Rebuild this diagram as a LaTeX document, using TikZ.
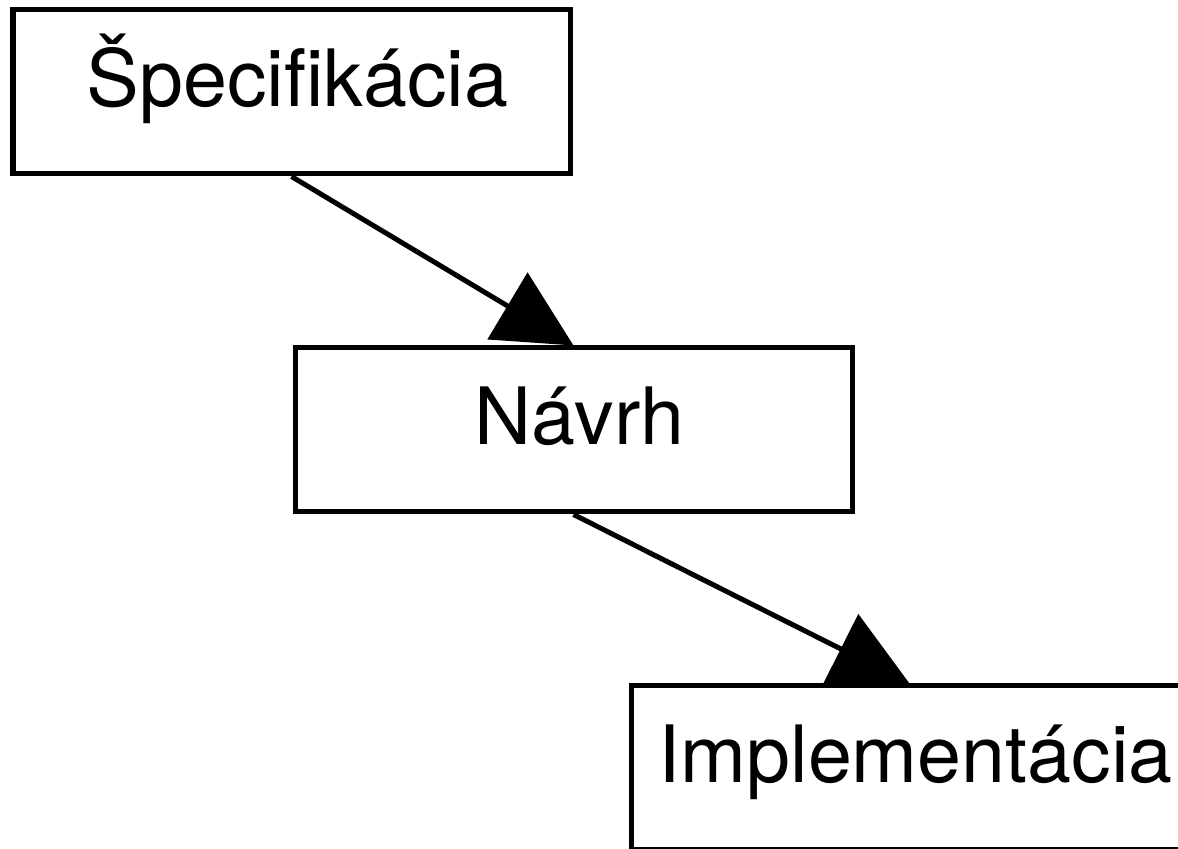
\documentclass[tikz,border=0pt]{standalone}
\usepackage{fontspec}
\setmainfont{TeX Gyre Heros}
\usetikzlibrary{arrows.meta}

\begin{document}
\begin{tikzpicture} [scale = 1,
  phase/.style = {draw, black, line width = 0.1cm, inner sep = 0pt,
    minimum width = 11.14cm, text height = 1.94cm, text depth = 1.34cm,
    font = \fontsize{45}{54}\selectfont,
    execute at begin node = \hspace{0.24cm}},
  flow/.style = {black, line width = 0.1cm,
    -{Triangle[length = 1.54cm, width = 1.54cm]}}]
\clip (0, 0) rectangle (23.56, 16.98);
\node[phase] (spec) at (5.83, 15.14){Špecifikácia};
\node[phase] (navrh) at (11.47, 8.38){Návrh};
\node[phase] (impl) at (18.19, 1.62){Implementácia};
\draw[flow] (spec.south) -- (navrh.north);
\draw[flow] (navrh.south) -- (impl.north);
\end{tikzpicture}
\end{document}
